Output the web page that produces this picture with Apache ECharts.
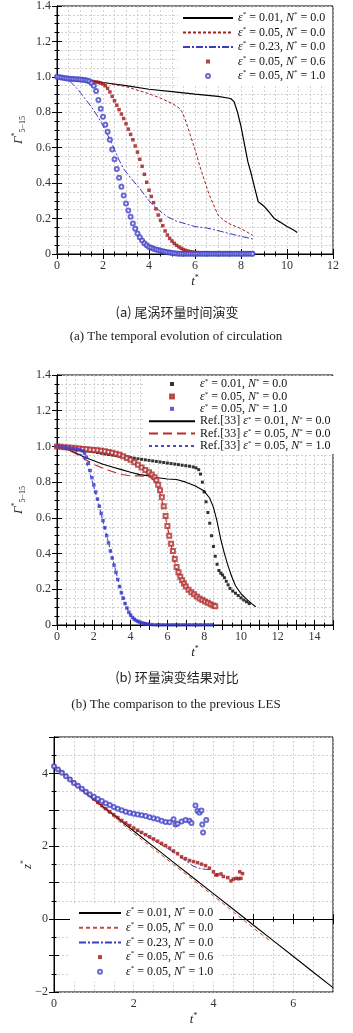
<!DOCTYPE html>
<html>
<head>
<meta charset="utf-8">
<script src="https://cdn.jsdelivr.net/npm/echarts/dist/echarts.min.js"></script>
<style>
html, body { margin: 0; padding: 0; background: #fff; }
#chart { width: 353px; height: 1033px; }
</style>
</head>
<body>
<div id="chart"></div>
<script>
// (a) circulation vs t*
const aEps001 = [[0,1.0],[1,0.985],[2,0.968],[3,0.95],[4,0.93],[5,0.917],[6,0.903],[7,0.89],[7.55,0.878],[7.7,0.86],[7.85,0.8],[8.0,0.72],[8.15,0.62],[8.3,0.52],[8.45,0.45],[8.6,0.37],[8.75,0.295],[8.85,0.285],[9.0,0.27],[9.2,0.24],[9.45,0.2],[9.7,0.18],[10.0,0.155],[10.25,0.138],[10.45,0.122]];
const aEps005 = [[0,1.0],[1,0.985],[2,0.968],[3,0.945],[4,0.905],[4.5,0.88],[5,0.85],[5.3,0.825],[5.45,0.8],[5.6,0.75],[5.8,0.67],[6.0,0.59],[6.2,0.5],[6.4,0.42],[6.6,0.34],[6.8,0.28],[7.0,0.22],[7.25,0.19],[7.5,0.17],[7.75,0.157],[8.0,0.143],[8.25,0.125],[8.5,0.105]];
const aEps023 = [[0,1.0],[0.3,0.99],[0.6,0.97],[0.9,0.93],[1.2,0.88],[1.5,0.83],[1.8,0.77],[2.1,0.7],[2.4,0.62],[2.7,0.53],[2.9,0.48],[3.2,0.43],[3.6,0.37],[4.0,0.3],[4.4,0.25],[4.8,0.21],[5.2,0.185],[5.6,0.17],[6.0,0.155],[6.5,0.147],[7.0,0.132],[7.5,0.115],[8.0,0.1],[8.5,0.085]];
const aN06 = [[0,1.0],[0.1,0.998],[0.2,0.996],[0.3,0.994],[0.4,0.992],[0.5,0.99],[0.6,0.989],[0.7,0.988],[0.8,0.987],[0.9,0.986],[1.0,0.985],[1.1,0.983],[1.2,0.981],[1.3,0.979],[1.4,0.977],[1.5,0.975],[1.6,0.973],[1.7,0.971],[1.8,0.969],[1.9,0.965],[2.0,0.96],[2.1,0.95],[2.2,0.935],[2.3,0.915],[2.4,0.89],[2.5,0.865],[2.6,0.84],[2.7,0.815],[2.8,0.79],[2.9,0.765],[3.0,0.735],[3.1,0.705],[3.2,0.675],[3.3,0.645],[3.4,0.61],[3.5,0.575],[3.6,0.535],[3.7,0.495],[3.8,0.45],[3.9,0.405],[4.0,0.36],[4.1,0.325],[4.2,0.29],[4.3,0.255],[4.4,0.22],[4.5,0.19],[4.6,0.16],[4.7,0.13],[4.8,0.107],[4.9,0.088],[5.0,0.073],[5.1,0.06],[5.2,0.049],[5.3,0.04],[5.4,0.032],[5.5,0.025],[5.6,0.02],[5.7,0.016],[5.8,0.013],[5.9,0.011],[6.0,0.009],[6.1,0.008],[6.2,0.007],[6.3,0.007],[6.4,0.006],[6.5,0.006],[6.6,0.006],[6.7,0.005],[6.8,0.005],[6.9,0.005],[7.0,0.005],[7.1,0.005],[7.2,0.005],[7.3,0.005],[7.4,0.005],[7.5,0.005],[7.6,0.005],[7.7,0.005],[7.8,0.005],[7.9,0.005],[8.0,0.005],[8.1,0.005],[8.2,0.005],[8.3,0.005],[8.4,0.005],[8.5,0.005]];
const aN10 = [[0,1.0],[0.1,0.998],[0.2,0.996],[0.3,0.994],[0.4,0.992],[0.5,0.99],[0.6,0.989],[0.7,0.988],[0.8,0.987],[0.9,0.986],[1.0,0.985],[1.1,0.984],[1.2,0.982],[1.3,0.98],[1.4,0.975],[1.5,0.965],[1.6,0.95],[1.7,0.92],[1.8,0.87],[1.9,0.82],[2.0,0.775],[2.1,0.73],[2.2,0.69],[2.3,0.645],[2.4,0.59],[2.5,0.535],[2.6,0.48],[2.7,0.43],[2.8,0.38],[2.9,0.33],[3.0,0.285],[3.1,0.245],[3.2,0.21],[3.3,0.172],[3.4,0.142],[3.5,0.116],[3.6,0.095],[3.7,0.076],[3.8,0.061],[3.9,0.049],[4.0,0.04],[4.1,0.035],[4.2,0.03],[4.3,0.026],[4.4,0.022],[4.5,0.019],[4.6,0.016],[4.7,0.013],[4.8,0.01],[4.9,0.008],[5.0,0.006],[5.1,0.004],[5.2,0.003],[5.3,0.002],[5.4,0.001],[5.5,0.001],[5.6,0.001],[5.7,0.001],[5.8,0.001],[5.9,0.001],[6.0,0.001],[6.1,0.001],[6.2,0.001],[6.3,0.001],[6.4,0.001],[6.5,0.001],[6.6,0.001],[6.7,0.001],[6.8,0.001],[6.9,0.001],[7.0,0.001],[7.1,0.001],[7.2,0.001],[7.3,0.001],[7.4,0.001],[7.5,0.001],[7.6,0.001],[7.7,0.001],[7.8,0.001],[7.9,0.001],[8.0,0.001],[8.1,0.001],[8.2,0.001],[8.3,0.001],[8.4,0.001],[8.5,0.001]];

// (b) comparison with Ref.[33]
const bEps001 = [[0,1.0],[0.2,0.997],[0.4,0.994],[0.6,0.991],[0.8,0.988],[1.0,0.985],[1.2,0.982],[1.4,0.979],[1.6,0.976],[1.8,0.973],[2.0,0.97],[2.2,0.966],[2.4,0.962],[2.6,0.958],[2.8,0.955],[3.0,0.952],[3.2,0.949],[3.4,0.946],[3.6,0.943],[3.8,0.94],[4.0,0.937],[4.2,0.934],[4.4,0.931],[4.6,0.928],[4.8,0.925],[5.0,0.922],[5.2,0.919],[5.4,0.916],[5.6,0.913],[5.8,0.91],[6.0,0.907],[6.2,0.904],[6.4,0.901],[6.6,0.898],[6.8,0.895],[7.0,0.892],[7.2,0.889],[7.4,0.885],[7.55,0.88],[7.7,0.87],[7.8,0.845],[7.9,0.8],[8.0,0.745],[8.1,0.69],[8.2,0.63],[8.3,0.57],[8.4,0.5],[8.5,0.44],[8.6,0.385],[8.7,0.34],[8.8,0.305],[8.9,0.29],[9.0,0.28],[9.1,0.265],[9.2,0.245],[9.3,0.225],[9.4,0.205],[9.55,0.19],[9.7,0.178],[9.85,0.165],[10.0,0.152],[10.15,0.14],[10.3,0.13],[10.45,0.12]];
const bEps005 = [[0,1.0],[0.2,0.998],[0.4,0.996],[0.6,0.994],[0.8,0.992],[1.0,0.99],[1.2,0.988],[1.4,0.986],[1.6,0.984],[1.8,0.982],[2.0,0.98],[2.2,0.978],[2.4,0.976],[2.6,0.973],[2.8,0.969],[3.0,0.965],[3.2,0.959],[3.4,0.953],[3.6,0.945],[3.8,0.935],[4.0,0.925],[4.2,0.912],[4.4,0.898],[4.6,0.882],[4.8,0.868],[5.0,0.855],[5.15,0.843],[5.3,0.828],[5.4,0.81],[5.5,0.785],[5.6,0.755],[5.7,0.715],[5.8,0.665],[5.9,0.61],[6.0,0.555],[6.1,0.5],[6.2,0.455],[6.3,0.415],[6.4,0.37],[6.5,0.325],[6.6,0.295],[6.7,0.27],[6.8,0.25],[6.9,0.232],[7.0,0.215],[7.15,0.198],[7.3,0.183],[7.45,0.172],[7.6,0.16],[7.75,0.149],[7.9,0.14],[8.05,0.131],[8.2,0.124],[8.35,0.116],[8.5,0.109],[8.6,0.105]];
const bN10 = [[0,1.0],[0.2,0.998],[0.4,0.995],[0.6,0.992],[0.8,0.989],[1.0,0.986],[1.2,0.983],[1.4,0.975],[1.5,0.962],[1.6,0.94],[1.7,0.905],[1.8,0.865],[1.9,0.825],[2.0,0.785],[2.1,0.745],[2.2,0.705],[2.3,0.665],[2.4,0.625],[2.5,0.585],[2.6,0.545],[2.7,0.5],[2.8,0.46],[2.9,0.415],[3.0,0.375],[3.1,0.335],[3.2,0.295],[3.3,0.255],[3.4,0.215],[3.5,0.18],[3.6,0.15],[3.7,0.12],[3.8,0.095],[3.9,0.072],[4.0,0.055],[4.1,0.042],[4.2,0.032],[4.3,0.025],[4.4,0.02],[4.5,0.016],[4.6,0.012],[4.7,0.009],[4.8,0.007],[4.9,0.005],[5.0,0.004],[5.2,0.002],[5.4,0.001],[5.6,0.001],[5.8,0.001],[6.0,0.001],[6.2,0.001],[6.4,0.001],[6.6,0.001],[6.8,0.001],[7.0,0.001],[7.2,0.001],[7.4,0.001],[7.6,0.001],[7.8,0.001],[8.0,0.001],[8.2,0.001],[8.4,0.001]];
const refEps001 = [[0,1.0],[0.5,0.985],[1.0,0.965],[1.5,0.94],[2.0,0.92],[2.5,0.9],[3.0,0.885],[3.5,0.87],[4.0,0.855],[4.5,0.842],[5.0,0.835],[5.5,0.825],[6.0,0.818],[6.5,0.815],[7.0,0.8],[7.5,0.78],[8.0,0.75],[8.3,0.71],[8.5,0.66],[8.7,0.58],[8.9,0.48],[9.1,0.4],[9.3,0.33],[9.5,0.27],[9.7,0.22],[10.0,0.175],[10.3,0.145],[10.6,0.118],[10.8,0.102]];
const refEps005 = [[0,1.0],[0.5,0.985],[1.0,0.96],[1.5,0.93],[2.0,0.9],[2.5,0.877],[3.0,0.86],[3.5,0.843],[4.0,0.835],[4.5,0.835],[5.0,0.83],[5.3,0.81],[5.5,0.77],[5.7,0.7],[5.9,0.6],[6.1,0.5],[6.3,0.4],[6.5,0.31],[6.7,0.26],[7.0,0.21],[7.5,0.17],[8.0,0.14],[8.5,0.11]];
const refN10 = [[0,1.0],[0.5,0.99],[1.0,0.975],[1.3,0.955],[1.5,0.93],[1.7,0.88],[1.9,0.81],[2.1,0.74],[2.3,0.66],[2.5,0.58],[2.7,0.5],[2.9,0.42],[3.1,0.34],[3.3,0.26],[3.5,0.18],[3.7,0.12],[3.9,0.075],[4.1,0.045],[4.4,0.02],[4.8,0.008],[5.2,0.002]];

// (c) z* vs t*
const cEps001 = [[0,4.22],[0.5,3.72],[1,3.28],[1.5,2.85],[2,2.42],[2.5,1.99],[3,1.56],[3.5,1.13],[4,0.7],[4.5,0.27],[5,-0.16],[5.5,-0.59],[6,-1.02],[6.5,-1.45],[7,-1.88]];
const cEps005 = [[0,4.22],[0.5,3.7],[1,3.25],[1.5,2.8],[2,2.36],[2.5,1.93],[3,1.5],[3.5,1.07],[4,0.64],[4.5,0.2],[5,-0.24],[5.4,-0.58]];
const cEps023 = [[0,4.22],[0.5,3.73],[1,3.3],[1.5,2.88],[2,2.48],[2.5,2.17],[3,1.84],[3.5,1.45],[3.7,1.38],[3.9,1.36]];
const cN06 = [[0,4.2],[0.1,4.12],[0.2,4.03],[0.3,3.94],[0.4,3.85],[0.5,3.76],[0.6,3.67],[0.7,3.58],[0.8,3.49],[0.9,3.4],[1.0,3.3],[1.1,3.21],[1.2,3.12],[1.3,3.03],[1.4,2.95],[1.5,2.87],[1.6,2.79],[1.7,2.71],[1.8,2.64],[1.9,2.57],[2.0,2.5],[2.1,2.44],[2.2,2.38],[2.3,2.32],[2.4,2.26],[2.5,2.2],[2.6,2.14],[2.7,2.08],[2.8,2.02],[2.9,1.95],[3.0,1.87],[3.1,1.8],[3.2,1.71],[3.3,1.66],[3.4,1.61],[3.5,1.58],[3.6,1.55],[3.7,1.51],[3.8,1.47],[3.9,1.4],[4.0,1.3],[4.06,1.21],[4.1,1.22],[4.19,1.24],[4.25,1.17],[4.36,1.14],[4.44,1.05],[4.5,1.1],[4.57,1.12],[4.63,1.11],[4.69,1.12],[4.66,1.3],[4.73,1.25]];
const cN10 = [[0,4.2],[0.1,4.11],[0.2,4.02],[0.3,3.92],[0.4,3.83],[0.5,3.74],[0.6,3.66],[0.7,3.58],[0.8,3.5],[0.9,3.42],[1.0,3.36],[1.1,3.3],[1.2,3.24],[1.3,3.18],[1.4,3.13],[1.5,3.08],[1.6,3.03],[1.7,2.99],[1.8,2.95],[1.9,2.92],[2.0,2.89],[2.1,2.87],[2.2,2.85],[2.3,2.83],[2.4,2.8],[2.5,2.77],[2.6,2.74],[2.7,2.7],[2.8,2.67],[2.9,2.66],[3.0,2.74],[3.05,2.6],[3.1,2.62],[3.2,2.68],[3.3,2.72],[3.4,2.7],[3.45,2.64],[3.55,3.12],[3.6,2.97],[3.65,2.92],[3.7,2.98],[3.72,2.6],[3.74,2.38],[3.82,2.72]];

const SERIF = 'Liberation Serif';
const L = {
  a1: ['0.01', '0.0'], a2: ['0.05', '0.0'], a3: ['0.23', '0.0'], a4: ['0.05', '0.6'], a5: ['0.05', '1.0'],
  b1: ['0.01', '0.0'], b2: ['0.05', '0.0'], b3: ['0.05', '1.0'],
  b4: ['0.01', '0.0', 1], b5: ['0.05', '0.0', 1], b6: ['0.05', '1.0', 1],
  c1: ['0.01', '0.0'], c2: ['0.05', '0.0'], c3: ['0.23', '0.0'], c4: ['0.05', '0.6'], c5: ['0.05', '1.0']
};
function legendText(name) {
  const e = L[name];
  return (e[2] ? 'Ref.[33] ' : '') + '{i|ε}{s|*} = ' + e[0] + ', {i|N}{s|*} = ' + e[1];
}

function line(name, data, g, color, type, width) {
  return {
    name, type: 'line', data, xAxisIndex: 2 * g, yAxisIndex: 2 * g,
    symbol: 'none', lineStyle: { color, type, width }, itemStyle: { color },
    z: 3
  };
}
function dots(name, data, g, symbol, size, color) {
  const empty = symbol.indexOf('empty') === 0;
  return {
    name, type: 'scatter', data, xAxisIndex: 2 * g, yAxisIndex: 2 * g,
    symbol, symbolSize: size,
    itemStyle: empty ? { color, borderColor: color, borderWidth: 1 } : { color },
    z: 4
  };
}

const gridLine = { show: true, lineStyle: { color: '#c4c4c4', type: [2, 2], width: 0.8 } };
function axisPair(dim, g, min, max, interval, minorSplit, fmt, extra) {
  const main = Object.assign({
    type: 'value', gridIndex: g, min, max, interval,
    position: dim === 'x' ? 'bottom' : 'left',
    nameMoveOverlap: false,
    axisLine: { lineStyle: { color: '#000', width: 1 } },
    axisTick: { inside: true, length: 5, lineStyle: { color: '#000' } },
    minorTick: { show: true, splitNumber: minorSplit, length: 2.5, lineStyle: { color: '#000' } },
    splitLine: gridLine,
    minorSplitLine: gridLine,
    axisLabel: { fontFamily: SERIF, fontSize: 12, color: '#333', margin: 6, formatter: fmt, showMaxLabel: true, showMinLabel: true }
  }, extra);
  const mirror = {
    type: 'value', gridIndex: g, min, max, interval,
    position: dim === 'x' ? 'top' : 'right',
    axisLine: { lineStyle: { color: '#000', width: 1 } },
    axisTick: { inside: true, length: 5, lineStyle: { color: '#000' } },
    minorTick: { show: true, splitNumber: minorSplit, length: 2.5, lineStyle: { color: '#000' } },
    splitLine: { show: false },
    axisLabel: { show: false }
  };
  return [main, mirror];
}
const intFmt = v => (v % 2 === 0 ? (v < 0 ? '\u2212' + (-v) : String(v)) : '');
const decFmt = v => (v === 0 ? '0' : v.toFixed(1));
const allFmt = v => String(v);

const nameRich = {
  g: { fontFamily: SERIF, fontStyle: 'italic', fontSize: 13, color: '#222', lineHeight: 16 },
  s: { fontFamily: SERIF, fontSize: 8, color: '#222', lineHeight: 8, verticalAlign: 'top' },
  b: { fontFamily: SERIF, fontSize: 8, color: '#222', lineHeight: 6, verticalAlign: 'bottom' }
};
const tName = { name: '{g|t}{s|*}', nameLocation: 'middle', nameGap: 20, nameTextStyle: { rich: nameRich } };
const gammaName = { name: '{g|\u0393}{s|*}{b|5\u221215}', nameLocation: 'middle', nameGap: 30, nameRotate: 90, nameTextStyle: { rich: nameRich } };
const zName = { name: '{g|z}{s|*}', nameLocation: 'middle', nameGap: 18, nameRotate: 90, nameTextStyle: { rich: nameRich } };

// legend icons: filled squares need a path so the square keeps its aspect
const SQUARE = 'path://M0,0H10V10H0Z';
const OPEN_SQUARE = 'path://M0,0H10V10H0Z M2,2V8H8V2Z';
function entry(name, icon) {
  return icon ? { name, icon } : { name, itemStyle: { color: 'rgba(0,0,0,0)', borderWidth: 0 } };
}
function legend(items, left, top, lh, gap, itemWidth, pad) {
  return {
    orient: 'vertical', left, top, itemWidth, itemHeight: 4, itemGap: gap, padding: pad,
    backgroundColor: '#fff', align: 'left', selectedMode: false, symbolKeepAspect: true,
    data: items, formatter: legendText, z: 10,
    textStyle: {
      fontFamily: SERIF, fontSize: 12, color: '#111', lineHeight: lh,
      rich: {
        i: { fontFamily: SERIF, fontStyle: 'italic', fontSize: 12, color: '#111', lineHeight: lh },
        s: { fontFamily: SERIF, fontSize: 7, color: '#111', lineHeight: 6, verticalAlign: 'top' }
      }
    }
  };
}

const chart = echarts.init(document.getElementById('chart'), null, { renderer: 'canvas' });
const RED = '#a52020', BLUE = '#3c3cc0';
chart.setOption({
  animation: false,
  backgroundColor: '#fff',
  grid: [
    { left: 57, top: 5, width: 276, height: 249, show: true, borderColor: '#000', borderWidth: 1 },
    { left: 57, top: 375, width: 276, height: 250, show: true, borderColor: '#000', borderWidth: 1 },
    { left: 54, top: 737, width: 279, height: 255, show: true, borderColor: '#000', borderWidth: 1 }
  ],
  xAxis: [
    ...axisPair('x', 0, 0, 12, 2, 4, allFmt, tName),
    ...axisPair('x', 1, 0, 15, 1, 2, intFmt, tName),
    ...axisPair('x', 2, 0, 7, 1, 2, intFmt, tName)
  ],
  yAxis: [
    ...axisPair('y', 0, 0, 1.4, 0.2, 4, decFmt, gammaName),
    ...axisPair('y', 1, 0, 1.4, 0.2, 4, decFmt, gammaName),
    ...axisPair('y', 2, -2, 5, 1, 2, intFmt, zName)
  ],
  legend: [
    legend([entry('a1'), entry('a2'), entry('a3'), entry('a4', SQUARE), entry('a5', 'emptyCircle')], 178, 8, 14, 0.5, 50, [3, 6, 3, 4]),
    legend([entry('b1', SQUARE), entry('b2', OPEN_SQUARE), entry('b3', SQUARE), entry('b4'), entry('b5'), entry('b6')], 144, 376, 12, 0.4, 46, [2, 6, 2, 4]),
    legend([entry('c1'), entry('c2'), entry('c3'), entry('c4', SQUARE), entry('c5', 'emptyCircle')], 70, 903, 14, 0.7, 42, [3, 6, 3, 8])
  ],
  series: [
    line('a1', aEps001, 0, '#000', 'solid', 1.2),
    line('a2', aEps005, 0, RED, [3, 2], 1),
    line('a3', aEps023, 0, BLUE, [7, 2, 2, 2], 1),
    dots('a4', aN06, 0, 'rect', 3.5, '#a01515'),
    dots('a5', aN10, 0, 'emptyCircle', 4, '#4545c8'),

    dots('b1', bEps001, 1, 'rect', 3, '#000'),
    dots('b2', bEps005, 1, 'emptyRect', 4, '#b03030'),
    dots('b3', bN10, 1, 'rect', 3.5, '#3535cc'),
    line('b4', refEps001, 1, '#000', 'solid', 1.1),
    line('b5', refEps005, 1, '#c02828', [9, 5], 1.1),
    line('b6', refN10, 1, '#4a4ad0', [3, 3], 1.1),

    line('c1', cEps001, 2, '#000', 'solid', 1.1),
    line('c2', cEps005, 2, '#c0503c', [4, 3], 1),
    line('c3', cEps023, 2, BLUE, [7, 2, 2, 2], 1),
    dots('c4', cN06, 2, 'rect', 3.5, '#a01515'),
    dots('c5', cN10, 2, 'emptyCircle', 4, '#4545c8')
  ],
  graphic: [
    { type: 'text', x: 177, y: 312, style: { text: '(a) 尾涡环量时间演变', font: '13px "Noto Sans CJK SC"', fill: '#222', align: 'center', verticalAlign: 'middle' } },
    { type: 'text', x: 176, y: 337, style: { text: '(a) The temporal evolution of circulation', font: '13px "Liberation Serif"', fill: '#222', align: 'center', verticalAlign: 'middle' } },
    { type: 'text', x: 177, y: 677, style: { text: '(b) 环量演变结果对比', font: '13px "Noto Sans CJK SC"', fill: '#222', align: 'center', verticalAlign: 'middle' } },
    { type: 'text', x: 176, y: 705, style: { text: '(b) The comparison to the previous LES', font: '13px "Liberation Serif"', fill: '#222', align: 'center', verticalAlign: 'middle' } }
  ]
});
</script>
</body>
</html>
